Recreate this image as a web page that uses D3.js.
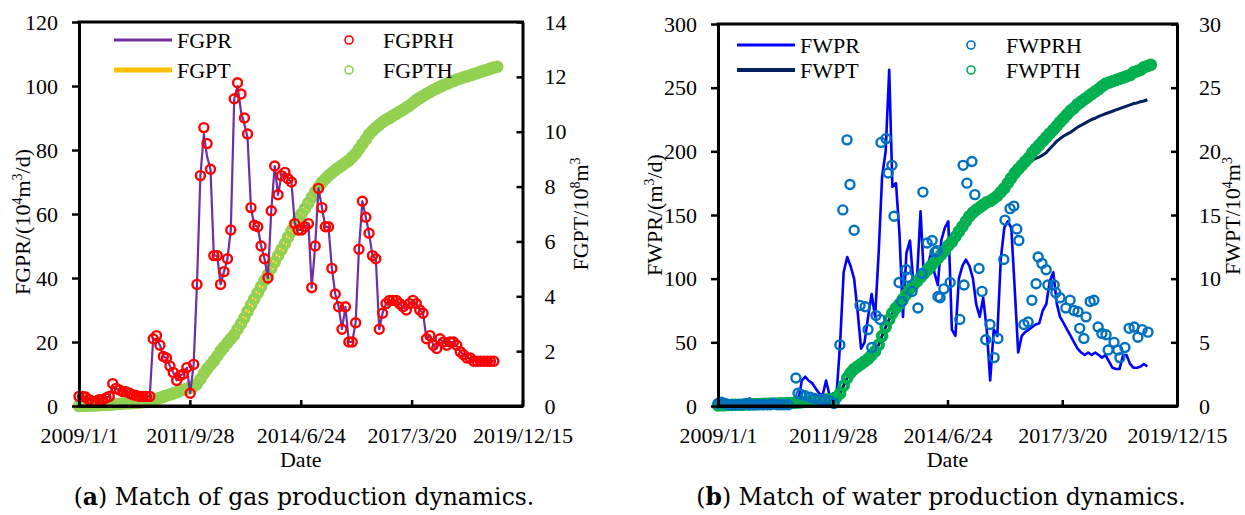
<!DOCTYPE html>
<html><head><meta charset="utf-8">
<script src="https://cdn.jsdelivr.net/npm/d3@7"></script>
<style>
body{margin:0;background:#fff}
svg{display:block}
text{font-family:"Liberation Serif","Times New Roman",serif;fill:#000}
</style>
</head><body>
<svg id="chart" width="1245" height="515"></svg>
<script>
// ---------- data ----------
const xTickLabels = ["2009/1/1","2011/9/28","2014/6/24","2017/3/20","2019/12/15"];
const seriesStart = "2009/1/1";           // monthly series start
const gasRateTicks = [0,20,40,60,80,100,120];
const gasCumTicks = [0,2,4,6,8,10,12,14];
const waterRateTicks = [0,50,100,150,200,250,300];
const waterCumTicks = [0,5,10,15,20,25,30];

// FGPRH: historical gas rate (10^4 m3/d), monthly
const fgprh = [3,3,2.8,2,1.5,1.5,2,2,2.5,3,
 7,5.5,5,4.5,4.5,4,3.5,3.3,3,3,
 3,3,21,22,19,15.5,15,12.5,10.5,8,
 9.5,10,12,4,13,38,72,87,82,74,
 47,47,38,42,46,55,96,101,97.5,90,
 85,62,56.5,56,50,46,40,61,75,66,
 72,73,71,70,57,55,55,56,57,37,
 50,68,62,56,56,43,35,31,24,31,
 20,20,26,49,64,59,54,47,46,24,
 29,32,33,33,33,32,31,30,32,33,
 32,30,29,21,22,19,18,21,20,19,
 20,20,19,17,16,15,15,14,14,14,
 14,14,14,14];
// FGPR: simulated gas rate (10^4 m3/d), monthly
const fgpr = [3,3,2.8,2,1.5,1.5,2,2,2.5,3,
 6,5.5,5,4.5,4.5,4,3.5,3.3,3,3,
 3,3,21,21,19,15.5,15,12.5,10.5,8,
 9.5,10,12,4,13,38,72,85,78,74,
 47,47,38,42,46,55,96,100,92,88,
 84,62,56.5,56,50,46,40,61,75,66,
 72,73,71,70,57,55,55,56,57,37,
 50,68,62,56,56,43,35,31,24,31,
 20,20,26,49,64,59,54,47,46,24,
 29,32,33,33,33,32,31,30,32,33,
 32,30,29,21,22,19,18,21,20,19,
 20,20,19,17,16,15,15,14,14,14,
 14,14,14,14];
// FGPTH: historical cumulative gas (10^8 m3), monthly
const fgpth = [0,0.01,0.01,0.02,0.02,0.03,0.03,0.04,0.05,0.05,
 0.06,0.07,0.08,0.09,0.1,0.1,0.11,0.12,0.13,0.14,
 0.15,0.17,0.2,0.25,0.3,0.34,0.38,0.42,0.46,0.5,
 0.55,0.59,0.63,0.68,0.72,0.8,0.98,1.18,1.35,1.5,
 1.65,1.82,2,2.15,2.3,2.45,2.6,2.8,3,3.22,
 3.45,3.68,3.9,4.12,4.35,4.58,4.8,5.02,5.25,5.48,
 5.7,5.92,6.15,6.38,6.6,6.8,7,7.2,7.4,7.6,
 7.8,7.98,8.15,8.28,8.4,8.5,8.6,8.69,8.78,8.87,
 8.95,9.07,9.2,9.37,9.55,9.72,9.9,10.03,10.15,10.25,
 10.35,10.43,10.5,10.58,10.65,10.73,10.8,10.88,10.95,11.05,
 11.15,11.23,11.3,11.38,11.45,11.52,11.58,11.64,11.7,11.75,
 11.8,11.85,11.9,11.94,11.98,12.02,12.06,12.1,12.14,12.18,
 12.22,12.26,12.3,12.34,12.37];
// FGPT: simulated cumulative gas (10^8 m3), monthly
const fgpt = [0,0.01,0.01,0.02,0.02,0.03,0.03,0.04,0.05,0.05,
 0.06,0.07,0.08,0.09,0.1,0.1,0.11,0.12,0.13,0.14,
 0.15,0.17,0.2,0.25,0.3,0.34,0.38,0.42,0.46,0.5,
 0.55,0.59,0.63,0.68,0.72,0.8,0.98,1.18,1.35,1.5,
 1.65,1.82,2,2.15,2.3,2.45,2.6,2.8,3,3.22,
 3.45,3.68,3.9,4.12,4.35,4.58,4.8,5.02,5.25,5.48,
 5.7,5.92,6.15,6.38,6.6,6.8,7,7.2,7.4,7.6,
 7.8,7.98,8.15,8.28,8.4,8.5,8.6,8.69,8.78,8.87,
 8.95,9.07,9.2,9.37,9.55,9.72,9.9,10.03,10.15,10.25,
 10.35,10.43,10.5,10.58,10.65,10.73,10.8,10.88,10.95,11.05,
 11.15,11.23,11.3,11.38,11.45,11.52,11.58,11.64,11.7,11.75,
 11.8,11.85,11.9,11.94,11.98,12.02,12.06,12.1,12.14,12.18,
 12.22,12.26,12.3,12.34,12.37];

// FWPR: simulated water rate (m3/d), monthly
const fwpr = [3,5,4,3,2,3,2,2,3,6,
 5,5,5,5,4,4,3,3,3,2,
 3,2,4,3,20,23,20,18,14,10,
 8,20,8,10,10,49,105,117,110,100,
 75,45,50,70,88,70,120,180,200,264,
 172,175,136,70,120,130,95,100,153,100,
 110,120,105,95,130,140,145,60,55,100,
 110,115,110,100,80,70,85,60,20,60,
 55,115,140,145,140,90,42,55,58,60,
 62,64,65,75,80,98,105,80,70,65,
 60,55,50,45,42,40,42,40,42,40,
 38,40,35,30,29,29,40,40,33,30,
 30,31,33,31];
// FWPT: simulated cumulative water (10^4 m3), monthly
const fwpt = [0.05,0.06,0.07,0.08,0.09,0.1,0.1,0.11,0.12,0.13,
 0.14,0.15,0.16,0.17,0.18,0.19,0.2,0.2,0.21,0.22,
 0.23,0.24,0.25,0.27,0.3,0.33,0.36,0.39,0.42,0.45,
 0.47,0.5,0.52,0.55,0.7,1,1.6,2.2,2.6,2.9,
 3.1,3.3,3.5,3.7,4,4.3,4.8,5.5,6.2,6.8,
 7.3,7.7,8,8.4,8.8,9.2,9.5,9.8,10.1,10.4,
 10.7,11,11.3,11.6,11.9,12.2,12.6,12.9,13.3,13.7,
 14.1,14.5,14.9,15.2,15.4,15.6,15.8,16,16.1,16.3,
 16.5,16.8,17.1,17.5,17.9,18.3,18.6,18.9,19,19.15,
 19.3,19.45,19.55,19.7,19.9,20.2,20.5,20.8,21,21.2,
 21.35,21.5,21.7,21.9,22.05,22.2,22.35,22.5,22.6,22.75,
 22.85,22.95,23.05,23.15,23.25,23.35,23.45,23.55,23.65,23.75,
 23.8,23.9,23.95,24.05];
// FWPTH: historical cumulative water (10^4 m3), monthly
const fwpth = [0.05,0.06,0.07,0.08,0.09,0.1,0.1,0.11,0.12,0.13,
 0.14,0.15,0.16,0.17,0.18,0.19,0.2,0.2,0.21,0.22,
 0.23,0.24,0.25,0.27,0.3,0.33,0.36,0.39,0.42,0.45,
 0.47,0.5,0.52,0.55,0.7,1,1.6,2.2,2.6,2.9,
 3.1,3.3,3.5,3.7,4,4.3,4.8,5.5,6.2,6.8,
 7.3,7.7,8,8.4,8.8,9.2,9.5,9.8,10.1,10.4,
 10.7,11,11.3,11.6,11.9,12.2,12.6,12.9,13.3,13.7,
 14.1,14.5,14.9,15.2,15.4,15.6,15.8,16,16.1,16.3,
 16.5,16.8,17.1,17.5,17.9,18.3,18.6,18.9,19.2,19.5,
 19.9,20.2,20.5,20.8,21.1,21.4,21.7,22,22.3,22.6,
 22.9,23.2,23.4,23.7,23.9,24.1,24.3,24.5,24.7,24.9,
 25.1,25.3,25.4,25.5,25.6,25.7,25.8,25.9,26,26.2,
 26.3,26.4,26.6,26.7,26.8];
// FWPRH: historical water rate (m3/d), irregular dates (decimal year)
const fwprhYear = [2009.0,2009.08,2009.17,2009.25,2009.33,2009.42,2009.5,2009.58,2009.67,2009.75,2009.83,2009.92,2010.0,2010.08,2010.17,2010.25,2010.33,2010.42,2010.5,2010.58,2010.67,
 2010.86,2010.91,2010.98,2011.08,2011.2,2011.31,2011.43,2011.55,2011.67,2011.77,
 2011.91,2011.98,2012.08,2012.15,2012.25,2012.39,2012.51,2012.58,2012.67,2012.77,
 2012.87,2012.89,2013.01,2013.06,2013.15,2013.2,2013.32,2013.39,2013.49,2013.53,
 2013.63,2013.77,2013.87,2013.89,2013.99,2014.11,2014.18,2014.23,2014.25,2014.3,
 2014.39,2014.54,2014.77,2014.85,2014.87,2014.94,2015.06,2015.13,2015.23,2015.3,
 2015.39,2015.49,2015.59,2015.68,2015.82,2015.85,2015.97,2016.06,2016.13,2016.18,
 2016.3,2016.4,2016.49,2016.59,2016.64,2016.73,2016.83,2016.87,2017.02,2017.06,
 2017.16,2017.3,2017.4,2017.49,2017.59,2017.63,2017.73,2017.78,2017.88,2017.97,
 2018.07,2018.16,2018.26,2018.31,2018.45,2018.54,2018.59,2018.71,2018.81,2018.93,
 2019.02,2019.12,2019.26];
const fwprhVal = [2,3,2,1,1,1,1,1,2,1,1,1,1,1,1,1,2,1,1,1,1,
 22,10,9,8,7,6,5,5,4,2,
 48,154,209,174,138,79,78,60,46,71,
 68,207,210,183,189,149,97,82,107,101,
 90,77,104,168,128,130,121,122,86,85,
 92,97,68,189,95,175,192,166,108,90,
 52,64,38,53,115,146,155,157,139,130,
 64,66,83,96,117,112,107,95,95,89,
 85,77,83,75,74,61,53,70,82,83,
 62,57,56,44,50,44,38,46,61,62,
 54,60,58];

// ---------- helpers ----------
const parse = d3.utcParse("%Y/%m/%d");
const t0 = parse(seriesStart);
const monthly = arr => arr.map((v,i)=>({d:d3.utcMonth.offset(t0,i), v}));
const yearToDate = y => { const yi=Math.floor(y); const a=Date.UTC(yi,0,1), b=Date.UTC(yi+1,0,1); return new Date(a+(y-yi)*(b-a)); };

const svg = d3.select("#chart");

function styleAxis(g){
  g.select(".domain").attr("stroke","#000").attr("stroke-width",3);
  g.selectAll(".tick line").attr("stroke","#000").attr("stroke-width",2.5);
  g.selectAll(".tick text").attr("font-size",22).attr("fill","#000")
   .style("font-family",'"Liberation Serif","Times New Roman",serif');
}

function richText(g, parts, x, y, rotate, anchor){
  const t = g.append("text").attr("font-size",22)
    .attr("text-anchor",anchor||"middle")
    .attr("transform",`translate(${x},${y})`+(rotate?` rotate(${rotate})`:""));
  let shift = 0;
  parts.forEach(p=>{
    const sup = p[1]==="sup", bold = p[1]==="bold";
    const target = sup ? -8 : 0;
    const ts = t.append("tspan").text(p[0]).attr("dy", target-shift);
    if(sup) ts.attr("font-size",14);
    if(bold) ts.attr("font-weight","bold");
    shift = target;
  });
  return t;
}

function panel(o){
  const g = svg.append("g");
  const x = d3.scaleUtc().domain([parse(xTickLabels[0]), parse(xTickLabels[xTickLabels.length-1])]).range([o.x0,o.x1]);
  const yL = d3.scaleLinear().domain([0,o.lTicks[o.lTicks.length-1]]).range([o.y1,o.y0]);
  const yR = d3.scaleLinear().domain([0,o.rTicks[o.rTicks.length-1]]).range([o.y1,o.y0]);

  const line = (yS)=> d3.line().x(d=>x(d.d)).y(d=>yS(d.v));

  // draw series
  o.series.forEach(s=>{
    const ys = s.axis==="R" ? yR : yL;
    if(s.type==="line"){
      g.append("path").datum(s.data).attr("fill","none").attr("stroke",s.color)
        .attr("stroke-width",s.w).attr("stroke-linejoin","round").attr("d",line(ys));
    } else {
      g.append("g").selectAll("circle").data(s.data).join("circle")
        .attr("cx",d=>x(d.d)).attr("cy",d=>ys(d.v)).attr("r",s.r)
        .attr("fill","none").attr("stroke",s.color).attr("stroke-width",s.w);
    }
  });

  // axes
  const ax = g.append("g").attr("transform",`translate(0,${o.y1})`)
    .call(d3.axisBottom(x).tickValues(xTickLabels.map(parse)).tickFormat((d,i)=>xTickLabels[i])
      .tickSize(-6).tickSizeOuter(0).tickPadding(21));
  styleAxis(ax);
  const al = g.append("g").attr("transform",`translate(${o.x0},0)`)
    .call(d3.axisLeft(yL).tickValues(o.lTicks).tickSize(7).tickSizeOuter(0).tickPadding(14));
  styleAxis(al);
  const ar = g.append("g").attr("transform",`translate(${o.x1},0)`)
    .call(d3.axisRight(yR).tickValues(o.rTicks).tickSize(-6).tickSizeOuter(0).tickPadding(22));
  styleAxis(ar);
  g.append("line").attr("x1",o.x0-1.5).attr("x2",o.x1+1.5).attr("y1",o.y0).attr("y2",o.y0)
    .attr("stroke","#000").attr("stroke-width",3);
  g.append("line").attr("x1",o.x0-1.5).attr("x2",o.x1+1.5).attr("y1",o.y1).attr("y2",o.y1)
    .attr("stroke","#000").attr("stroke-width",3);

  // titles
  richText(g,[["Date",""]],(o.x0+o.x1)/2,467);
  richText(g,o.lTitle,o.lTitleX,o.lTitleY,-90);
  richText(g,o.rTitle,o.rTitleX,o.rTitleY,-90);
  richText(g,o.caption,o.capX,505).attr("font-size",23.5)
    .style("font-family",'"DejaVu Serif",serif');

  // legend
  o.legend.forEach(L=>{
    if(L.type==="line"){
      g.append("line").attr("x1",L.x).attr("x2",L.x+58).attr("y1",L.y).attr("y2",L.y)
        .attr("stroke",L.color).attr("stroke-width",L.w);
    } else {
      g.append("circle").attr("cx",L.x).attr("cy",L.y).attr("r",4).attr("fill","none")
        .attr("stroke",L.color).attr("stroke-width",1.6);
    }
    g.append("text").attr("x",L.tx).attr("y",L.y+8).attr("font-size",22).text(L.label);
  });
}

panel({
  x0:79, x1:522.5, y0:22, y1:406,
  lTicks:gasRateTicks, rTicks:gasCumTicks,
  series:[
    {type:"line", axis:"R", data:monthly(fgpt), color:"#FFC000", w:3},
    {type:"circle", axis:"R", data:monthly(fgpth), color:"#92D050", w:4, r:4.3},
    {type:"line", axis:"L", data:monthly(fgpr), color:"#7030A0", w:2.2},
    {type:"circle", axis:"L", data:monthly(fgprh), color:"#FF0000", w:2.4, r:4.5}
  ],
  lTitle:[["FGPR/(10",""],["4","sup"],["m",""],["3","sup"],["/d)",""]], lTitleX:30, lTitleY:222,
  rTitle:[["FGPT/10",""],["8","sup"],["m",""],["3","sup"]], rTitleX:588, rTitleY:214,
  caption:[["(",""],["a","bold"],[") Match of gas production dynamics.",""]], capX:304,
  legend:[
    {type:"line", x:114, y:40, color:"#7030A0", w:3, tx:177, label:"FGPR"},
    {type:"line", x:114, y:70, color:"#FFC000", w:5, tx:177, label:"FGPT"},
    {type:"circle", x:349, y:40, color:"#FF0000", tx:383, label:"FGPRH"},
    {type:"circle", x:349, y:70, color:"#92D050", tx:383, label:"FGPTH"}
  ]
});

const fwprhData = fwprhYear.map((y,i)=>({d:yearToDate(y), v:fwprhVal[i]}));
panel({
  x0:718, x1:1177, y0:24, y1:406,
  lTicks:waterRateTicks, rTicks:waterCumTicks,
  series:[
    {type:"line", axis:"L", data:monthly(fwpr), color:"#0000FF", w:2.6},
    {type:"line", axis:"R", data:monthly(fwpt), color:"#002060", w:3},
    {type:"circle", axis:"R", data:monthly(fwpth), color:"#00B050", w:4, r:4.3},
    {type:"circle", axis:"L", data:fwprhData, color:"#0070C0", w:2.4, r:4.5}
  ],
  lTitle:[["FWPR/(m",""],["3","sup"],["/d)",""]], lTitleX:662, lTitleY:215,
  rTitle:[["FWPT/10",""],["4","sup"],["m",""],["3","sup"]], rTitleX:1240, rTitleY:216,
  caption:[["(",""],["b","bold"],[") Match of water production dynamics.",""]], capX:941,
  legend:[
    {type:"line", x:737, y:45, color:"#0000FF", w:3, tx:800, label:"FWPR"},
    {type:"line", x:737, y:70, color:"#002060", w:4, tx:800, label:"FWPT"},
    {type:"circle", x:971, y:45, color:"#0070C0", tx:1006, label:"FWPRH"},
    {type:"circle", x:971, y:70, color:"#00B050", tx:1006, label:"FWPTH"}
  ]
});
</script>
</body></html>
